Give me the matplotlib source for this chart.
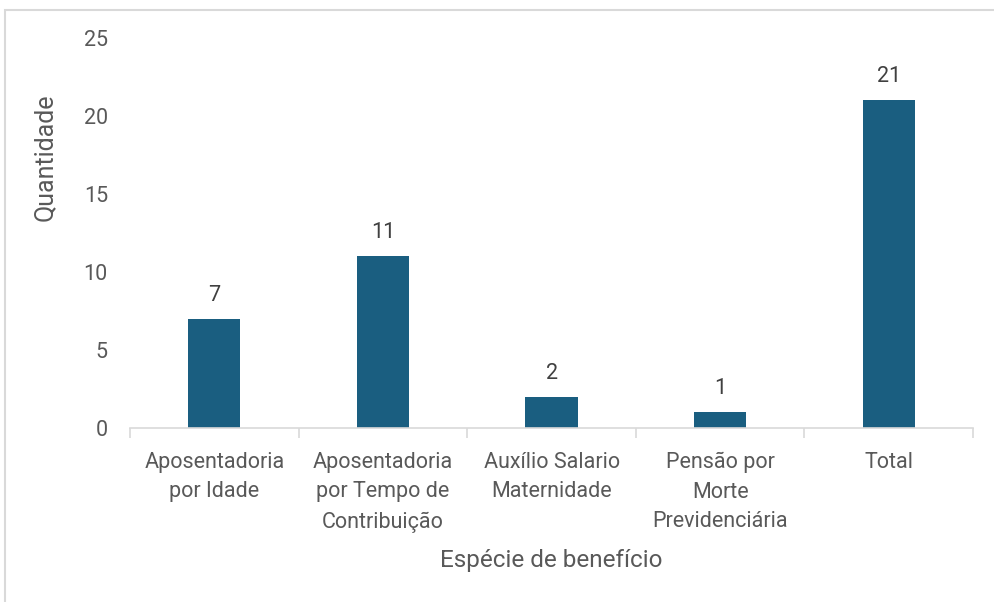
import matplotlib.pyplot as plt
import matplotlib.patches as patches
import numpy as np

categories = ["Aposentadoria\npor Idade", "Aposentadoria\npor Tempo de\nContribuição",
              "Auxílio Salario\nMaternidade", "Pensão por\nMorte\nPrevidenciária", "Total"]
values = [7, 11, 2, 1, 21]
yticks = [0, 5, 10, 15, 20, 25]

plt.rcParams['font.family'] = ['Roboto', 'DejaVu Sans']
grey = '#595959'
line = '#D9D9D9'

fig = plt.figure(figsize=(9.95, 6.02), dpi=100)
ax = fig.add_axes([0.1307, 0.289, 0.978 - 0.1307, 0.937 - 0.289])

# outer chart border
fig.patches.append(patches.Rectangle((5 / 995, -0.1), 1.1, 1.1 - 10 / 602, transform=fig.transFigure,
                                     fill=False, edgecolor=line, linewidth=1.5))

x = np.arange(len(categories))
bars = ax.bar(x, values, width=0.31, color='#1A5E80')
for b, v in zip(bars, values):
    ax.annotate(str(v), (b.get_x() + b.get_width() / 2, v), xytext=(0, 9.5), textcoords='offset points',
                ha='center', va='bottom', fontsize=15.5, color='#404040')

ax.set_xlim(-0.5, len(categories) - 0.5)
ax.set_ylim(0, 25)
ax.set_yticks(yticks)
ax.tick_params(axis='y', length=0, pad=16, labelsize=15.5, labelcolor=grey)

ax.set_xticks(x)
ax.set_xticklabels(categories, fontsize=15.5, color=grey, linespacing=1.55, va='top')
ax.tick_params(axis='x', length=0, pad=17)
# boundary ticks between categories
ax.set_xticks(np.arange(len(categories) + 1) - 0.5, minor=True)
ax.tick_params(axis='x', which='minor', length=7, color=line, width=1.2, direction='out')

for s in ['top', 'right', 'left']:
    ax.spines[s].set_visible(False)
ax.spines['bottom'].set_color(line)
ax.spines['bottom'].set_linewidth(1.2)

ax.set_ylabel('Quantidade', fontsize=18, color=grey, labelpad=19, y=0.695)
ax.set_xlabel('Espécie de benefício', fontsize=17.5, color=grey, labelpad=12)

fig.savefig('out.png', dpi=100)
